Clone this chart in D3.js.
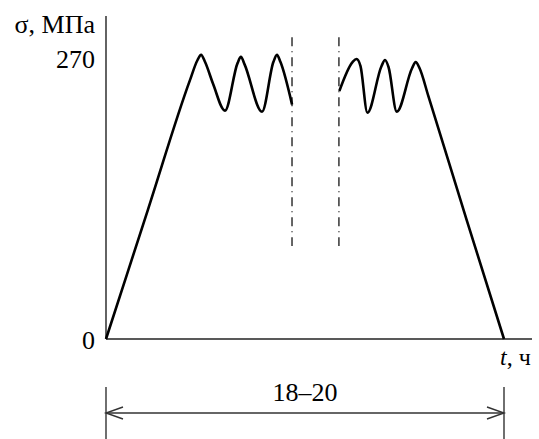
<!DOCTYPE html>
<html>
<head>
<meta charset="utf-8">
<script src="https://cdn.jsdelivr.net/npm/d3@7"></script>
<style>
  body { margin: 0; background: #fff; }
</style>
</head>
<body>
<script>
// stress curve, left part (before the break) and right part (after)
var leftT = [0, 2.0, 4.0, 4.37, 4.54, 4.73, 5.11, 5.68, 6.28, 6.44, 6.61, 7.45, 7.99, 8.16, 8.33, 8.88];
var leftS = [0, 125, 250, 270, 275, 268, 247, 221, 267, 273, 266, 220, 268, 275, 268, 227];
var rightT = [11.14, 11.77, 11.96, 12.15, 12.48, 13.15, 13.32, 13.49, 13.88, 14.61, 14.78, 14.97, 15.39, 17.19, 19];
var rightS = [240, 268, 271, 264, 219, 264, 270, 263, 220, 262, 268, 262, 235, 117, 0];
// break marks (dash-dot)
var breakT = [8.88, 11.12];
var breakS = [90, 292];
var yTicks = [0, 270];
var spanT = [0, 19];
var spanLabel = "18–20";

var width = 539, height = 439;
var font = "'Liberation Serif', 'Times New Roman', 'DejaVu Serif', serif";

var svg = d3.select("body")
  .append("svg")
  .attr("width", width)
  .attr("height", height)
  .attr("font-family", font);

var x = d3.scaleLinear().domain([0, 19]).range([106, 504]);
var y = d3.scaleLinear().domain([0, 270]).range([339, 60]);

// axes
svg.append("line")
  .attr("x1", x(0)).attr("x2", x(0))
  .attr("y1", y(0)).attr("y2", 16)
  .attr("stroke", "#222").attr("stroke-width", 1.4);
svg.append("line")
  .attr("x1", x(0)).attr("x2", 532)
  .attr("y1", y(0)).attr("y2", y(0))
  .attr("stroke", "#222").attr("stroke-width", 1.4);

svg.selectAll(".ytick")
  .data(yTicks)
  .enter()
  .append("text")
  .attr("class", "ytick")
  .attr("x", 95)
  .attr("y", function(d) { return y(d) + (d == 0 ? 10 : 8); })
  .attr("text-anchor", "end")
  .attr("font-size", 26)
  .text(function(d) { return d; });

svg.append("text")
  .attr("x", 95).attr("y", 33)
  .attr("text-anchor", "end")
  .attr("font-size", 26)
  .text("σ, МПа");

var tl = svg.append("text")
  .attr("x", 500).attr("y", 365)
  .attr("font-size", 24);
tl.append("tspan").attr("font-style", "italic").text("t");
tl.append("tspan").text(", ч");

// curve
var line = d3.line()
  .x(function(d) { return x(d[0]); })
  .y(function(d) { return y(d[1]); })
  .curve(d3.curveMonotoneX);

[d3.zip(leftT, leftS), d3.zip(rightT, rightS)].forEach(function(pts) {
  svg.append("path")
    .attr("d", line(pts))
    .attr("fill", "none")
    .attr("stroke", "#000")
    .attr("stroke-width", 2.6)
    .attr("stroke-linejoin", "round");
});

svg.selectAll(".brk")
  .data(breakT)
  .enter()
  .append("line")
  .attr("class", "brk")
  .attr("x1", function(d) { return x(d); })
  .attr("x2", function(d) { return x(d); })
  .attr("y1", y(breakS[1]))
  .attr("y2", y(breakS[0]))
  .attr("stroke", "#000")
  .attr("stroke-width", 1.2)
  .attr("stroke-dasharray", "9,5,1,5");

// dimension line
var dimY = 413;
spanT.forEach(function(t) {
  svg.append("line")
    .attr("x1", x(t)).attr("x2", x(t))
    .attr("y1", 387).attr("y2", height)
    .attr("stroke", "#333").attr("stroke-width", 1.4);
});
svg.append("line")
  .attr("x1", x(spanT[0])).attr("x2", x(spanT[1]))
  .attr("y1", dimY).attr("y2", dimY)
  .attr("stroke", "#333").attr("stroke-width", 1.4);
svg.append("path")
  .attr("d", "M" + (x(spanT[0]) + 17) + "," + (dimY - 6) + "L" + x(spanT[0]) + "," + dimY + "L" + (x(spanT[0]) + 17) + "," + (dimY + 6))
  .attr("fill", "none").attr("stroke", "#333").attr("stroke-width", 1.4);
svg.append("path")
  .attr("d", "M" + (x(spanT[1]) - 17) + "," + (dimY - 6) + "L" + x(spanT[1]) + "," + dimY + "L" + (x(spanT[1]) - 17) + "," + (dimY + 6))
  .attr("fill", "none").attr("stroke", "#333").attr("stroke-width", 1.4);
svg.append("text")
  .attr("x", (x(spanT[0]) + x(spanT[1])) / 2)
  .attr("y", 401)
  .attr("text-anchor", "middle")
  .attr("font-size", 26)
  .text(spanLabel);
</script>
</body>
</html>
